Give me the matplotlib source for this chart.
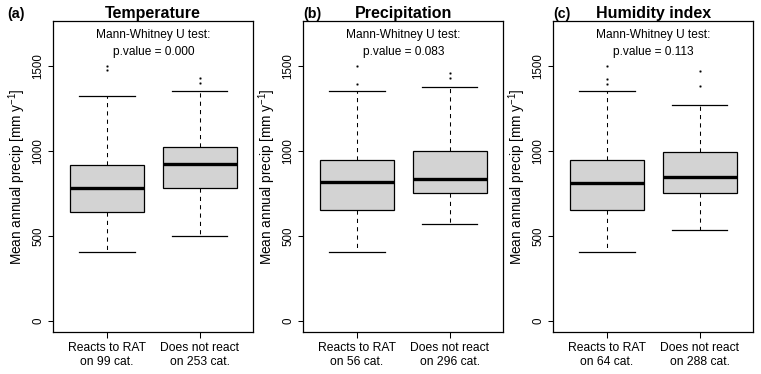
import matplotlib
matplotlib.use("Agg")
import matplotlib.pyplot as plt

plt.rcParams['font.family'] = ['Liberation Sans', 'DejaVu Sans']
plt.rcParams['mathtext.default'] = 'regular'

# data
titles = ["Temperature", "Precipitation", "Humidity index"]
tags = ["(a)", "(b)", "(c)"]
pvalues = ["0.000", "0.083", "0.113"]
n_react = [99, 56, 64]
n_not = [253, 296, 288]

# whislo, q1, med, q3, whishi
react_stats = [[408, 640, 786, 921, 1327],
               [408, 656, 821, 949, 1354],
               [408, 656, 815, 949, 1354]]
not_stats = [[502, 783, 923, 1022, 1354],
             [573, 752, 839, 1002, 1376],
             [537, 752, 845, 996, 1270]]
react_fliers = [[1477, 1505], [1398, 1505], [1398, 1425, 1505]]
not_fliers = [[1403, 1431], [1431, 1463], [1386, 1475]]

yticks = [0, 500, 1000, 1500]

fig = plt.figure(figsize=(7.61, 3.74), dpi=100)
lefts = [53.3 / 761, 303.3 / 761, 553.3 / 761]
tag_x = [-0.231, 0.0, 0.0]

for i in range(3):
    ax = fig.add_axes([lefts[i], 1 - 332.3 / 374, 200 / 761, 311.3 / 374])
    stats = []
    for s, fl in [(react_stats[i], react_fliers[i]), (not_stats[i], not_fliers[i])]:
        stats.append(dict(whislo=s[0], q1=s[1], med=s[2], q3=s[3], whishi=s[4], fliers=fl))
    ax.bxp(stats, positions=[1, 2], widths=0.8, capwidths=0.6, patch_artist=True,
           boxprops=dict(facecolor='#d3d3d3', edgecolor='black', linewidth=0.9),
           medianprops=dict(color='black', linewidth=2.4, solid_capstyle='butt'),
           whiskerprops=dict(color='black', linewidth=0.75, linestyle=(0, (4, 4))),
           capprops=dict(color='black', linewidth=0.9),
           flierprops=dict(marker='s', markersize=1.0, markerfacecolor='black',
                           markeredgecolor='black', markeredgewidth=0.3, linestyle='none'))
    ax.set_xlim(0.42, 2.58)
    ax.set_ylim(-68, 1768)
    ax.set_yticks(yticks)
    ax.set_yticklabels([str(v) for v in yticks], rotation=90, va='center')
    ax.set_xticks([1, 2])
    ax.set_xticklabels(["Reacts to RAT\non %d cat." % n_react[i],
                        "Does not react\non %d cat." % n_not[i]], linespacing=1.2)
    ax.tick_params(axis='y', length=3.6, width=0.75, pad=2.8, labelsize=8.3)
    ax.tick_params(axis='x', length=4.2, width=0.75, pad=3.0, labelsize=8.7)
    for sp in ax.spines.values():
        sp.set_linewidth(0.9)
    ax.set_ylabel("Mean annual precip [mm y$^{-1}$]", fontsize=9.8)
    ax.yaxis.set_label_coords(-0.128, 0.5)
    ax.set_title(titles[i], fontsize=11.5, fontweight='bold', pad=2)
    ax.text(tag_x[i], 1.0, tags[i], transform=ax.transAxes, fontsize=10.3,
            fontweight='bold', ha='left', va='bottom')
    ax.text(0.5, 0.975, "Mann-Whitney U test:\np.value = %s" % pvalues[i],
            transform=ax.transAxes, fontsize=8.6, ha='center', va='top', linespacing=1.55)

fig.savefig("out.png", dpi=100)
